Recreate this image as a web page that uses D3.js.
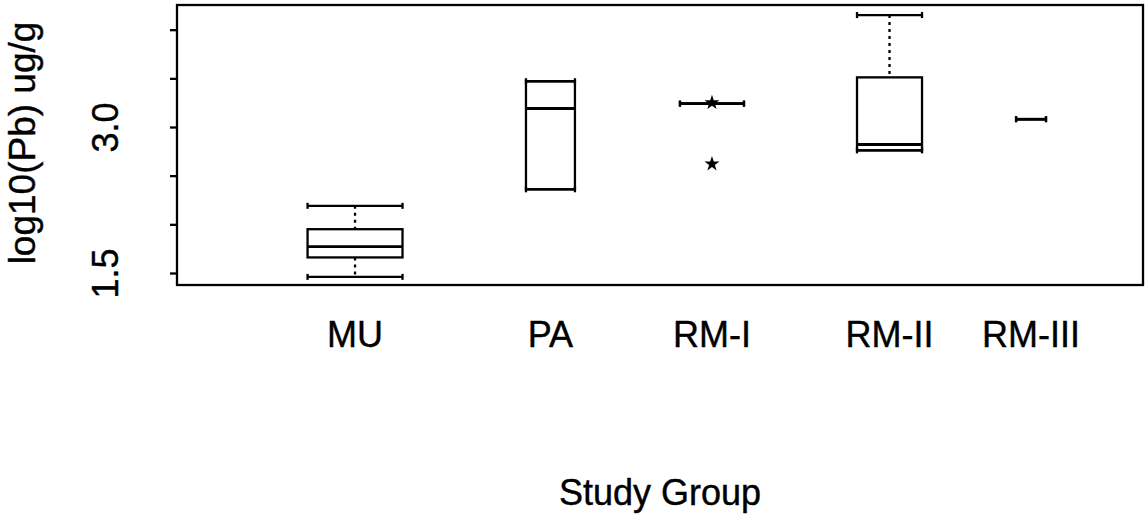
<!DOCTYPE html>
<html>
<head>
<meta charset="utf-8">
<script src="https://cdn.jsdelivr.net/npm/d3@7"></script>
<style>
  html, body { margin: 0; padding: 0; background: #fff; }
  svg text { font-family: "Liberation Sans", Arial, Helvetica, sans-serif; fill: #000; stroke: #000; stroke-width: 0.4px; }
</style>
</head>
<body>
<svg id="chart" width="1146" height="517"></svg>
<script>
// Box-plot summaries of log10(Pb) in ug/g for each study group
const groups      = ["MU", "PA", "RM-I", "RM-II", "RM-III"];
const lowWhisker  = [1.46, 2.36, 3.24, 2.76, 3.08];
const q1          = [1.66, 2.36, 3.24, 2.76, 3.08];
const median      = [1.77, 3.19, 3.24, 2.82, 3.08];
const q3          = [1.95, 3.47, 3.24, 3.51, 3.08];
const highWhisker = [2.19, 3.47, 3.24, 4.15, 3.08];
const outliers    = [[], [], [3.25, 2.62], [], []];
const yTicks      = [1.5, 2.0, 2.5, 3.0, 3.5, 4.0];
const yTickLabels = [1.5, 3.0];

// Layout: box centres and widths on a 0-100 horizontal plotting scale
const layout = {
  centre: [18.43, 38.66, 55.38, 73.76, 88.41],
  width:  [9.83, 5.07, 6.63, 6.73, 3.1]
};

const plot = { left: 177, right: 1143, top: 5, bottom: 285 };
const lw = 2.3;
const svg = d3.select("#chart");

const x = d3.scaleLinear().domain([0, 100]).range([plot.left, plot.right]);
const y = d3.scaleLinear().domain([1.3767, 4.2535]).range([plot.bottom, plot.top]);

const data = groups.map((g, i) => ({
  g, lo: lowWhisker[i], q1: q1[i], med: median[i], q3: q3[i], hi: highWhisker[i],
  out: outliers[i], cx: layout.centre[i], w: layout.width[i]
}));

// Plot frame
svg.append("rect")
  .attr("x", plot.left).attr("y", plot.top)
  .attr("width", plot.right - plot.left).attr("height", plot.bottom - plot.top)
  .attr("fill", "none").attr("stroke", "#000").attr("stroke-width", lw);

// Y axis
const yAxis = svg.append("g")
  .attr("transform", `translate(${plot.left},0)`)
  .call(d3.axisLeft(y).tickValues(yTicks).tickSize(7).tickSizeOuter(0)
    .tickFormat(d => yTickLabels.includes(d) ? d.toFixed(1) : ""));
yAxis.select(".domain").remove();
yAxis.selectAll(".tick line").attr("stroke", "#000").attr("stroke-width", lw);
yAxis.selectAll(".tick text")
  .attr("x", 0).attr("y", 0).attr("dy", 0)
  .attr("text-anchor", "middle")
  .attr("transform", "translate(-59,0) rotate(-90)")
  .style("font-size", "36px")
  .style("font-family", "'Liberation Sans', Arial, sans-serif");

const boxes = svg.append("g").selectAll("g").data(data).join("g");

// Whiskers (dotted) and caps
boxes.append("line")
  .attr("x1", d => x(d.cx)).attr("x2", d => x(d.cx))
  .attr("y1", d => y(d.hi)).attr("y2", d => y(d.q3))
  .attr("stroke", "#000").attr("stroke-width", lw).attr("stroke-dasharray", "3,4");
boxes.append("line")
  .attr("x1", d => x(d.cx)).attr("x2", d => x(d.cx))
  .attr("y1", d => y(d.q1)).attr("y2", d => y(d.lo))
  .attr("stroke", "#000").attr("stroke-width", lw).attr("stroke-dasharray", "3,4");
boxes.selectAll("line.cap")
  .data(d => [d.lo, d.hi].map(v => ({ v, d })))
  .join("line").attr("class", "cap")
  .attr("x1", e => x(e.d.cx - e.d.w / 2)).attr("x2", e => x(e.d.cx + e.d.w / 2))
  .attr("y1", e => y(e.v)).attr("y2", e => y(e.v))
  .attr("stroke", "#000").attr("stroke-width", lw);
boxes.selectAll("line.end")
  .data(d => [d.lo, d.hi].flatMap(v => [-1, 1].map(s => ({ v, s, d }))))
  .join("line").attr("class", "end")
  .attr("x1", e => x(e.d.cx + e.s * e.d.w / 2)).attr("x2", e => x(e.d.cx + e.s * e.d.w / 2))
  .attr("y1", e => y(e.v) - 3).attr("y2", e => y(e.v) + 3)
  .attr("stroke", "#000").attr("stroke-width", lw);

// Box and median
boxes.append("rect")
  .attr("x", d => x(d.cx - d.w / 2))
  .attr("width", d => x(d.cx + d.w / 2) - x(d.cx - d.w / 2))
  .attr("y", d => y(d.q3))
  .attr("height", d => y(d.q1) - y(d.q3))
  .attr("fill", "none").attr("stroke", "#000").attr("stroke-width", lw);
boxes.append("line")
  .attr("x1", d => x(d.cx - d.w / 2)).attr("x2", d => x(d.cx + d.w / 2))
  .attr("y1", d => y(d.med)).attr("y2", d => y(d.med))
  .attr("stroke", "#000").attr("stroke-width", 2.8);

// Outliers
const star = d3.symbol().type(d3.symbolStar).size(70);
boxes.selectAll("path.out")
  .data(d => d.out.map(v => ({ v, d })))
  .join("path").attr("class", "out")
  .attr("d", star)
  .attr("transform", e => `translate(${x(e.d.cx)},${y(e.v)})`)
  .attr("fill", "#000");

// Group labels
svg.append("g").selectAll("text").data(data).join("text")
  .attr("x", d => x(d.cx)).attr("y", 347)
  .attr("text-anchor", "middle")
  .style("font-size", "36px")
  .text(d => d.g);

// Axis titles
svg.append("text")
  .attr("x", 660).attr("y", 505)
  .attr("text-anchor", "middle")
  .style("font-size", "36px")
  .text("Study Group");

svg.append("text")
  .attr("transform", "translate(35,143) rotate(-90)")
  .attr("text-anchor", "middle")
  .style("font-size", "37px")
  .text("log10(Pb) ug/g");
</script>
</body>
</html>
